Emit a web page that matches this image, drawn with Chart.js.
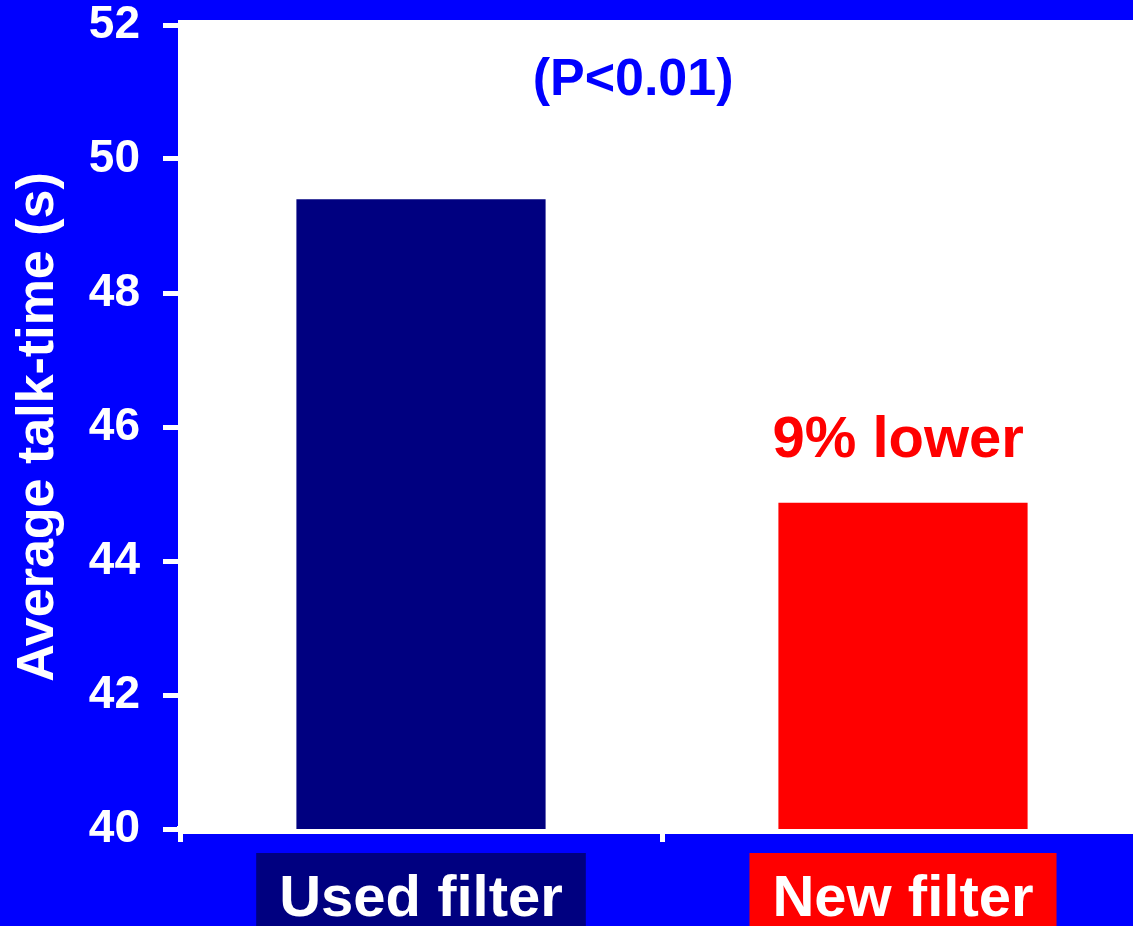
<!DOCTYPE html>
<html>
<head>
<meta charset="utf-8">
<title>Average talk-time</title>
<script src="https://cdn.jsdelivr.net/npm/chart.js@4.4.1/dist/chart.umd.min.js"></script>
<style>
  html, body { margin: 0; padding: 0; background: #0000ff; overflow: hidden; }
  #wrap { width: 1133px; height: 926px; overflow: hidden; }
  canvas { display: block; }
</style>
</head>
<body>
<div id="wrap"><canvas id="chart" width="1150" height="926"></canvas></div>
<script>
// data
const categories = ['Used filter', 'New filter'];
const talkTime = [49.4, 44.87];
const barColors = ['#000080', '#ff0000'];
const yMin = 40, yMax = 52, yStep = 2;
const yTitle = 'Average talk-time (s)';

// text notes placed on the chart (category index, value)
const notes = [
    { text: '(P<0.01)', x: 0.44, y: 50.95, color: '#0000ff', size: 52 },
    { text: '9% lower', x: 0.99, y: 45.55, color: '#ff0000', size: 58 }
];

const FONT = '"Liberation Sans", Arial, sans-serif';

// blue page + white plot box
const backdrop = {
    id: 'backdrop',
    beforeDraw(chart) {
        const { ctx, chartArea: a } = chart;
        ctx.save();
        ctx.fillStyle = '#0000ff';
        ctx.fillRect(0, 0, chart.width, chart.height);
        ctx.fillStyle = '#ffffff';
        ctx.fillRect(a.left - 2, a.top - 5, chart.width - a.left + 2, a.bottom - a.top + 10);
        ctx.restore();
    }
};

// coloured boxes under the bars + the two notes
const labelsAndNotes = {
    id: 'labelsAndNotes',
    afterDraw(chart) {
        const { ctx } = chart;
        const xs = chart.scales.x, ys = chart.scales.y;
        ctx.save();
        ctx.font = 'bold 58px ' + FONT;
        ctx.textAlign = 'center';
        ctx.textBaseline = 'alphabetic';
        categories.forEach((c, i) => {
            const cx = xs.getPixelForTick(i);
            const w = ctx.measureText(c).width + 46;
            ctx.fillStyle = barColors[i];
            ctx.fillRect(cx - w / 2, xs.top + 24, w, 100);
            ctx.fillStyle = '#ffffff';
            ctx.fillText(c, cx, xs.top + 87);
        });
        notes.forEach(n => {
            ctx.font = 'bold ' + n.size + 'px ' + FONT;
            ctx.fillStyle = n.color;
            ctx.fillText(n.text, xs.getPixelForValue(n.x), ys.getPixelForValue(n.y));
        });
        ctx.restore();
    }
};

new Chart(document.getElementById('chart'), {
    type: 'bar',
    data: {
        labels: categories,
        datasets: [{
            data: talkTime,
            backgroundColor: barColors,
            borderWidth: 0,
            barPercentage: 0.517,
            categoryPercentage: 1
        }]
    },
    options: {
        responsive: false,
        devicePixelRatio: 1,
        animation: false,
        layout: { padding: { top: 25, right: 6, bottom: 0, left: 0 } },
        plugins: {
            legend: { display: false },
            tooltip: { enabled: false }
        },
        scales: {
            x: {
                z: 1,
                afterFit: s => { s.height = 97; },
                grid: {
                    drawOnChartArea: false,
                    drawTicks: true,
                    tickLength: 13,
                    tickWidth: 5,
                    tickColor: '#ffffff',
                    offset: true
                },
                border: { color: '#ffffff', width: 6 },
                ticks: { display: false }
            },
            y: {
                z: 1,
                min: yMin,
                max: yMax,
                afterFit: s => { s.width = 180; s.paddingTop = 0; s.paddingBottom = 0; },
                grid: {
                    drawOnChartArea: false,
                    drawTicks: true,
                    tickLength: 17,
                    tickWidth: 5,
                    tickColor: '#ffffff'
                },
                border: { color: '#ffffff', width: 5 },
                ticks: {
                    stepSize: yStep,
                    padding: 23,
                    color: '#ffffff',
                    font: { family: FONT, size: 46, weight: 'bold', lineHeight: 1.1 }
                },
                title: {
                    display: true,
                    text: yTitle,
                    color: '#ffffff',
                    padding: { top: 7, bottom: 0 },
                    font: { family: FONT, size: 52, weight: 'bold', lineHeight: 1.2 }
                }
            }
        }
    },
    plugins: [backdrop, labelsAndNotes]
});
</script>
</body>
</html>
